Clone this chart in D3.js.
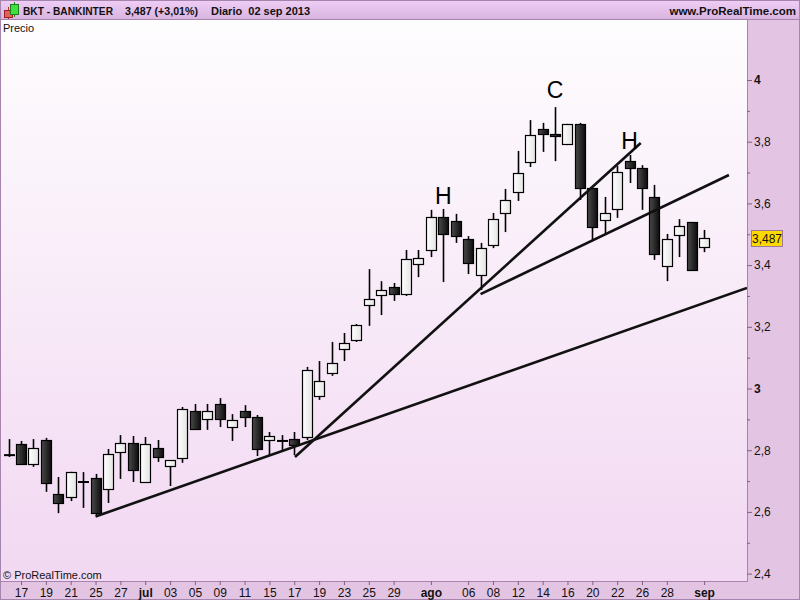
<!DOCTYPE html>
<html><head><meta charset="utf-8">
<script src="https://cdn.jsdelivr.net/npm/d3@7/dist/d3.min.js"></script>
<style>body{margin:0;padding:0;background:#fff;}svg{display:block;font-family:"Liberation Sans",Arial,sans-serif;}</style>
</head><body>
<script>
// ---- data ----
const dates = ["14 jun","17 jun","18 jun","19 jun","20 jun","21 jun","24 jun","25 jun","26 jun","27 jun","28 jun",
"01 jul","02 jul","03 jul","04 jul","05 jul","08 jul","09 jul","10 jul","11 jul","12 jul","15 jul","16 jul","17 jul","18 jul","19 jul","22 jul","23 jul","24 jul","25 jul","26 jul","29 jul","30 jul","31 jul",
"01 ago","02 ago","05 ago","06 ago","07 ago","08 ago","09 ago","12 ago","13 ago","14 ago","15 ago","16 ago","19 ago","20 ago","21 ago","22 ago","23 ago","26 ago","27 ago","28 ago","29 ago","30 ago","02 sep"];
const open  = [2.784,2.820,2.755,2.833,2.658,2.648,2.697,2.710,2.674,2.794,2.823,2.697,2.807,2.749,2.775,2.927,2.901,2.950,2.875,2.927,2.908,2.833,2.830,2.836,2.843,2.976,3.050,3.128,3.157,3.271,3.303,3.329,3.306,3.404,3.449,3.556,3.543,3.485,3.368,3.465,3.569,3.637,3.734,3.841,3.825,3.793,3.857,3.650,3.546,3.582,3.737,3.715,3.621,3.397,3.498,3.540,3.459];
const high  = [2.836,2.830,2.836,2.840,2.713,2.730,2.729,2.723,2.804,2.849,2.846,2.843,2.833,2.768,2.940,2.950,2.950,2.969,2.917,2.946,2.914,2.859,2.849,2.859,3.070,3.089,3.151,3.180,3.209,3.387,3.348,3.342,3.449,3.449,3.579,3.582,3.566,3.494,3.472,3.569,3.647,3.770,3.870,3.861,3.912,3.858,3.861,3.650,3.621,3.721,3.757,3.724,3.660,3.501,3.549,3.540,3.514];
const low   = [2.778,2.755,2.746,2.665,2.596,2.635,2.613,2.587,2.629,2.707,2.697,2.694,2.762,2.684,2.759,2.866,2.866,2.875,2.830,2.875,2.781,2.784,2.801,2.784,2.833,2.963,3.041,3.089,3.151,3.203,3.238,3.284,3.300,3.361,3.426,3.345,3.472,3.371,3.319,3.455,3.507,3.608,3.718,3.767,3.737,3.789,3.611,3.481,3.501,3.553,3.666,3.579,3.417,3.348,3.426,3.384,3.442];
const close = [2.784,2.755,2.807,2.694,2.629,2.729,2.697,2.596,2.788,2.823,2.736,2.820,2.778,2.768,2.934,2.869,2.927,2.901,2.898,2.908,2.804,2.846,2.830,2.817,3.060,3.024,3.083,3.147,3.206,3.290,3.319,3.306,3.420,3.423,3.556,3.501,3.494,3.407,3.455,3.549,3.611,3.699,3.822,3.825,3.818,3.857,3.650,3.524,3.569,3.702,3.715,3.650,3.436,3.485,3.527,3.384,3.488];

const xTickIdx    = [1,3,5,7,9,11,13,15,17,19,21,23,25,27,29,31,34,37,39,41,43,45,47,49,51,53,56];
const xTickLabels = ["17","19","21","25","27","jul","03","05","09","11","15","17","19","23","25","29","ago","06","08","12","14","16","20","22","26","28","sep"];
const yTicks = [2.4,2.6,2.8,3.0,3.2,3.4,3.6,3.8,4.0];
const yMinorTicks = [2.5,2.7,2.9,3.1,3.3,3.5,3.7,3.9];

// trend lines: [startIdx, startVal, endIdx, endVal]
const trendIdx0 = [7.0, 23.06, 38.0];
const trendVal0 = [2.585, 2.778, 3.306];
const trendIdx1 = [59.45, 50.9, 58.0];
const trendVal1 = [3.326, 3.796, 3.692];

const patternLabels = ["H","C","H"];
const patternIdx = [35.0, 44.0, 50.0];
const patternVal = [3.597, 3.942, 3.777];

const lastPrice = "3,487";

// ---- layout ----
const W = 800, H = 600;
const plotL = 1, plotR = 747, plotT = 20, plotB = 581;

const svg = d3.select("body").append("svg").attr("width", W).attr("height", H);
const defs = svg.append("defs");

function lg(id, stops, vertical) {
  const g = defs.append("linearGradient").attr("id", id)
    .attr("x1", 0).attr("y1", 0).attr("x2", vertical ? 0 : 1).attr("y2", vertical ? 1 : 0);
  stops.forEach(s => g.append("stop").attr("offset", s[0]).attr("stop-color", s[1]));
}
lg("bgGrad", [[0, "#fefdfe"], [1, "#f2d8f2"]], true);
lg("hdrGrad", [[0, "#efcef6"], [1, "#d8b3de"]], true);
lg("blackGrad", [[0, "#4a4a4a"], [1, "#0c0c0c"]], false);
lg("whiteGrad", [[0, "#ffffff"], [1, "#e4e4e4"]], false);

// backgrounds
svg.append("rect").attr("x", 0).attr("y", 0).attr("width", W).attr("height", H).attr("fill", "#e3c4e3");
svg.append("rect").attr("x", plotL).attr("y", plotT).attr("width", plotR - plotL).attr("height", plotB - plotT)
  .attr("fill", "url(#bgGrad)");
svg.append("rect").attr("x", 0).attr("y", 0).attr("width", W).attr("height", plotT).attr("fill", "url(#hdrGrad)");
svg.append("line").attr("x1", 0).attr("x2", W).attr("y1", plotT - 0.5).attr("y2", plotT - 0.5).attr("stroke", "#a585ad");
svg.append("line").attr("x1", plotR + 0.5).attr("x2", plotR + 0.5).attr("y1", plotT).attr("y2", plotB).attr("stroke", "#a585ad");
svg.append("line").attr("x1", 0).attr("x2", plotR + 1).attr("y1", plotB + 0.5).attr("y2", plotB + 0.5).attr("stroke", "#a585ad");
svg.append("line").attr("x1", 0.5).attr("x2", 0.5).attr("y1", plotT).attr("y2", H).attr("stroke", "#a585ad");
svg.append("rect").attr("x", 0.5).attr("y", 0.5).attr("width", W - 1).attr("height", H - 1).attr("fill", "none").attr("stroke", "#a585ad");

// scales
const x = d3.scaleLinear().domain([0, 56]).range([8.6, 704.1]);
const y = d3.scaleLinear().domain([2.4, 4.0]).range([573.6, 80]);
const fmt = v => d3.format(".1f")(v).replace(".", ",").replace(",0", "");

// clip
defs.append("clipPath").attr("id", "plotClip").append("rect")
  .attr("x", plotL).attr("y", plotT).attr("width", plotR - plotL).attr("height", plotB - plotT);

// header
const hdr = svg.append("g");
hdr.append("line").attr("x1", 8.5).attr("x2", 8.5).attr("y1", 7).attr("y2", 19).attr("stroke", "#b03030");
hdr.append("rect").attr("x", 4.5).attr("y", 10.5).attr("width", 8).attr("height", 7).attr("fill", "#e06060").attr("stroke", "#a02020");
hdr.append("line").attr("x1", 14.5).attr("x2", 14.5).attr("y1", 2).attr("y2", 17).attr("stroke", "#208020");
hdr.append("rect").attr("x", 10.5).attr("y", 4.5).attr("width", 8).attr("height", 10).attr("fill", "#40e040").attr("stroke", "#208020");
const hs = {"font-size": "11.5px", "font-weight": "bold", fill: "#111"};
function txt(g, t, xx, yy, style, anchor) {
  const e = g.append("text").attr("x", xx).attr("y", yy).text(t).attr("text-anchor", anchor || "start");
  Object.entries(style).forEach(([k, v]) => e.style(k, v));
  return e;
}
txt(hdr, "BKT - BANKINTER", 23, 15, hs).attr("textLength", 90).attr("lengthAdjust", "spacingAndGlyphs");
txt(hdr, "3,487 (+3,01%)", 125, 15, hs).attr("textLength", 73).attr("lengthAdjust", "spacingAndGlyphs");
txt(hdr, "Diario  02 sep 2013", 211, 15, hs).attr("xml:space", "preserve").style("white-space", "pre")
  .attr("textLength", 99).attr("lengthAdjust", "spacingAndGlyphs");
txt(hdr, "www.ProRealTime.com", 796, 15, hs, "end");

txt(svg, "Precio", 3, 32, {"font-size": "11px", fill: "#111"});
txt(svg, "© ProRealTime.com", 3, 579, {"font-size": "11px", fill: "#111"});

// y axis
const yAxis = d3.axisRight(y).tickValues(yTicks).tickSize(5).tickPadding(2).tickFormat(fmt);
const ya = svg.append("g").attr("transform", `translate(${plotR},0)`).call(yAxis);
ya.select(".domain").remove();
ya.selectAll(".tick line").attr("stroke", "#806080");
ya.selectAll(".tick text").attr("fill", "#111").style("font-size", "12px")
  .style("font-family", "'Liberation Sans',Arial,sans-serif")
  .style("font-weight", d => Math.abs(d - Math.round(d)) < 1e-6 ? "bold" : "normal");
const yMinor = d3.axisRight(y).tickValues(yMinorTicks).tickSize(3).tickFormat("");
const ym = svg.append("g").attr("transform", `translate(${plotR},0)`).call(yMinor);
ym.select(".domain").remove();
ym.selectAll(".tick line").attr("stroke", "#806080");

// x axis
const xAxis = d3.axisBottom(x).tickValues(xTickIdx).tickSize(4).tickPadding(3)
  .tickFormat((d, i) => xTickLabels[i]);
const xa = svg.append("g").attr("transform", `translate(0,${plotB})`).call(xAxis);
xa.select(".domain").remove();
xa.selectAll(".tick line").attr("stroke", "#806080");
xa.selectAll(".tick text").attr("fill", "#111").style("font-size", "12px")
  .style("font-family", "'Liberation Sans',Arial,sans-serif")
  .style("font-weight", (d, i) => isNaN(+xTickLabels[i]) ? "bold" : "normal");

// candles
const plot = svg.append("g").attr("clip-path", "url(#plotClip)");
const data = dates.map((d, i) => ({i, o: open[i], h: high[i], l: low[i], c: close[i]}));
const bw = 10;
plot.selectAll("line.wick").data(data).enter().append("line").attr("class", "wick")
  .attr("x1", d => Math.round(x(d.i)) + 0.5).attr("x2", d => Math.round(x(d.i)) + 0.5)
  .attr("y1", d => y(d.h)).attr("y2", d => y(d.l))
  .attr("stroke", "#000").attr("stroke-width", 1.6);
const bodies = data.filter(d => Math.abs(y(d.o) - y(d.c)) >= 1.5);
const dojis = data.filter(d => Math.abs(y(d.o) - y(d.c)) < 1.5);
plot.selectAll("rect.body").data(bodies).enter().append("rect").attr("class", "body")
  .attr("x", d => Math.round(x(d.i)) + 0.5 - bw / 2)
  .attr("y", d => Math.round(y(Math.max(d.o, d.c))) + 0.5)
  .attr("width", bw)
  .attr("height", d => Math.max(1, Math.round(Math.abs(y(d.o) - y(d.c)))))
  .attr("fill", d => d.c >= d.o ? "url(#whiteGrad)" : "url(#blackGrad)")
  .attr("stroke", "#000").attr("stroke-width", 1.2);
plot.selectAll("line.doji").data(dojis).enter().append("line").attr("class", "doji")
  .attr("x1", d => Math.round(x(d.i)) + 0.5 - bw / 2 - 0.5).attr("x2", d => Math.round(x(d.i)) + 0.5 + bw / 2 + 0.5)
  .attr("y1", d => y(d.c)).attr("y2", d => y(d.c))
  .attr("stroke", "#000").attr("stroke-width", 2);

// trend lines
const trends = trendIdx0.map((v, k) => ({x0: trendIdx0[k], y0: trendVal0[k], x1: trendIdx1[k], y1: trendVal1[k]}));
plot.selectAll("line.trend").data(trends).enter().append("line").attr("class", "trend")
  .attr("x1", d => x(d.x0)).attr("y1", d => y(d.y0)).attr("x2", d => x(d.x1)).attr("y2", d => y(d.y1))
  .attr("stroke", "#111").attr("stroke-width", 2.6);

// pattern labels
plot.selectAll("text.pat").data(patternLabels).enter().append("text").attr("class", "pat")
  .attr("x", (d, i) => x(patternIdx[i])).attr("y", (d, i) => y(patternVal[i]))
  .attr("text-anchor", "middle").style("font-size", "23px").attr("fill", "#000").text(d => d);

// last price box
const lpY = y(close[close.length - 1]);
svg.append("rect").attr("x", 751.5).attr("y", Math.round(lpY) - 7.5).attr("width", 31).attr("height", 16)
  .attr("fill", "#ffd800").attr("stroke", "#9a7a9a");
txt(svg, lastPrice, 767, Math.round(lpY) + 5, {"font-size": "12px", fill: "#111"}, "middle");
</script>
</body></html>
